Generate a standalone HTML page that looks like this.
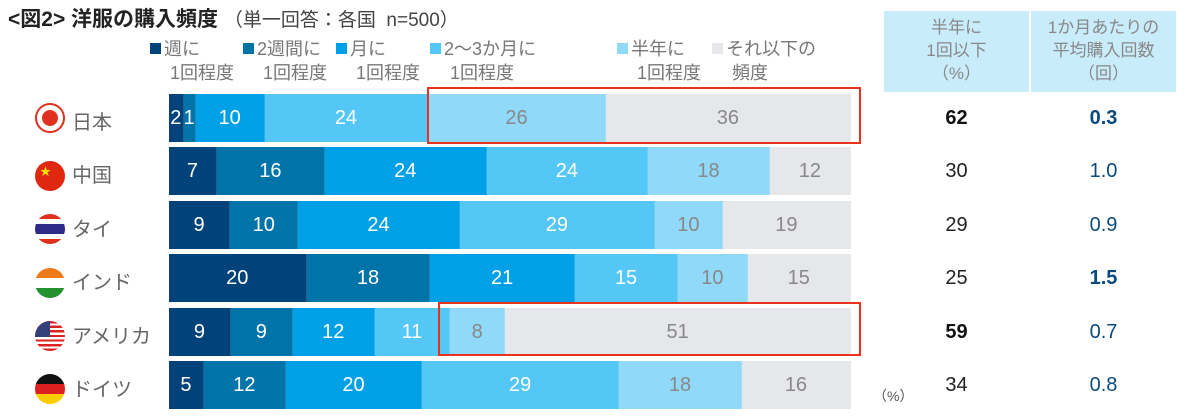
<!DOCTYPE html><html><head><meta charset="utf-8"><style>
body{margin:0;width:1200px;height:418px;background:#fff;position:relative;overflow:hidden;font-family:"Liberation Sans","Noto Sans CJK JP",sans-serif;}
.a{position:absolute;}
.t{left:8px;top:3px;font-size:21px;font-weight:bold;color:#222;}
.t span{font-weight:normal;font-size:19px;color:#444}
.lg{top:37px;font-size:18px;color:#777;line-height:24px}
.lg i{display:inline-block;width:11px;height:11px;margin-right:3px;vertical-align:1px}
.bar{left:169px;width:682px;height:48px;display:flex;font-size:20px;}
.bar div{display:flex;align-items:center;justify-content:center;color:#fff;border-right:1px solid rgba(255,255,255,.15);overflow:visible;white-space:nowrap}
.c1{background:#00427a}.c2{background:#0073a8}.c3{background:#00a0e6}.c4{background:#55c7f7}.c5{background:#90d9f9;color:#888!important}.c6{background:#e6e7eb;color:#888!important}
.hd{top:11px;height:81px;background:#c9ecfb;color:#888;font-size:17px;text-align:center;line-height:23px;padding-top:5px;box-sizing:border-box}
.cn{left:72px;font-size:20px;color:#666}
.fl{left:35px;width:30px;height:30px;border-radius:50%;overflow:hidden}
.v{font-size:20px;text-align:center;width:145px}
.box{border:2px solid #e8321e;box-sizing:border-box}
</style></head><body>
<div class="a t">&lt;図2&gt; 洋服の購入頻度 <span>（単一回答：各国&nbsp; n=500）</span></div>
<div class="a lg" style="left:150px"><i class="c1"></i>週に<br>&nbsp;&nbsp;&nbsp;&nbsp;1回程度</div>
<div class="a lg" style="left:243px"><i class="c2"></i>2週間に<br>&nbsp;&nbsp;&nbsp;&nbsp;1回程度</div>
<div class="a lg" style="left:336px"><i class="c3"></i>月に<br>&nbsp;&nbsp;&nbsp;&nbsp;1回程度</div>
<div class="a lg" style="left:430px"><i class="c4"></i>2～3か月に<br>&nbsp;&nbsp;&nbsp;&nbsp;1回程度</div>
<div class="a lg" style="left:617px"><i class="c5"></i>半年に<br>&nbsp;&nbsp;&nbsp;&nbsp;1回程度</div>
<div class="a lg" style="left:712px"><i class="c6"></i>それ以下の<br>&nbsp;&nbsp;&nbsp;&nbsp;頻度</div>
<div class="a hd" style="left:884px;width:145px">半年に<br>1回以下<br>（%）</div>
<div class="a hd" style="left:1031px;width:145px">1か月あたりの<br>平均購入回数<br>（回）</div>

<div class="a bar" style="top:94px"><div class="c1" style="flex:2">2</div><div class="c2" style="flex:1">1</div><div class="c3" style="flex:10">10</div><div class="c4" style="flex:24">24</div><div class="c5" style="flex:26">26</div><div class="c6" style="flex:36">36</div></div>
<div class="a bar" style="top:147px"><div class="c1" style="flex:7">7</div><div class="c2" style="flex:16">16</div><div class="c3" style="flex:24">24</div><div class="c4" style="flex:24">24</div><div class="c5" style="flex:18">18</div><div class="c6" style="flex:12">12</div></div>
<div class="a bar" style="top:201px"><div class="c1" style="flex:9">9</div><div class="c2" style="flex:10">10</div><div class="c3" style="flex:24">24</div><div class="c4" style="flex:29">29</div><div class="c5" style="flex:10">10</div><div class="c6" style="flex:19">19</div></div>
<div class="a bar" style="top:254px"><div class="c1" style="flex:20">20</div><div class="c2" style="flex:18">18</div><div class="c3" style="flex:21">21</div><div class="c4" style="flex:15">15</div><div class="c5" style="flex:10">10</div><div class="c6" style="flex:15">15</div></div>
<div class="a bar" style="top:308px"><div class="c1" style="flex:9">9</div><div class="c2" style="flex:9">9</div><div class="c3" style="flex:12">12</div><div class="c4" style="flex:11">11</div><div class="c5" style="flex:8">8</div><div class="c6" style="flex:51">51</div></div>
<div class="a bar" style="top:361px"><div class="c1" style="flex:5">5</div><div class="c2" style="flex:12">12</div><div class="c3" style="flex:20">20</div><div class="c4" style="flex:29">29</div><div class="c5" style="flex:18">18</div><div class="c6" style="flex:16">16</div></div>

<div class="a box" style="left:427px;top:87px;width:434px;height:57px"></div>
<div class="a box" style="left:438px;top:302px;width:423px;height:54px"></div>

<div class="a fl" style="top:103px;background:#fff;border:2px solid #e0301e;width:26px;height:26px"><div class="a" style="left:5px;top:5px;width:16px;height:16px;border-radius:50%;background:#e0301e"></div></div>
<div class="a fl" style="top:161px;background:#de2910"><span class="a" style="left:5px;top:2px;color:#ffde00;font-size:11px">★</span></div>
<div class="a fl" style="top:214px;background:linear-gradient(#e0301e 0 17%,#fff 17% 33%,#2d2a8a 33% 67%,#fff 67% 83%,#e0301e 83%)"></div>
<div class="a fl" style="top:268px;background:linear-gradient(#ee7a1b 0 33%,#fff 33% 67%,#23912e 67%)"></div>
<div class="a fl" style="top:321px;background:repeating-linear-gradient(#d22 0 2.3px,#fff 2.3px 4.6px)"><div class="a" style="left:0;top:0;width:15px;height:16px;background:#33407a"></div></div>
<div class="a fl" style="top:374px;background:linear-gradient(#111 0 33%,#dd1f1f 33% 67%,#fc0 67%)"></div>

<div class="a cn" style="top:106px">日本</div>
<div class="a cn" style="top:159px">中国</div>
<div class="a cn" style="top:213px">タイ</div>
<div class="a cn" style="top:266px">インド</div>
<div class="a cn" style="top:320px">アメリカ</div>
<div class="a cn" style="top:373px">ドイツ</div>

<div class="a v" style="left:884px;top:107px;font-weight:bold;color:#111">62</div>
<div class="a v" style="left:884px;top:160px;color:#222">30</div>
<div class="a v" style="left:884px;top:214px;color:#222">29</div>
<div class="a v" style="left:884px;top:267px;color:#222">25</div>
<div class="a v" style="left:884px;top:321px;font-weight:bold;color:#111">59</div>
<div class="a v" style="left:884px;top:374px;color:#222">34</div>
<div class="a v" style="left:1031px;top:107px;font-weight:bold;color:#0b4a7e">0.3</div>
<div class="a v" style="left:1031px;top:160px;color:#0b4a7e">1.0</div>
<div class="a v" style="left:1031px;top:214px;color:#0b4a7e">0.9</div>
<div class="a v" style="left:1031px;top:267px;font-weight:bold;color:#0b4a7e">1.5</div>
<div class="a v" style="left:1031px;top:321px;color:#0b4a7e">0.7</div>
<div class="a v" style="left:1031px;top:374px;color:#0b4a7e">0.8</div>
<div class="a" style="left:873px;top:386px;font-size:14px;color:#555">（%）</div>
</body></html>
